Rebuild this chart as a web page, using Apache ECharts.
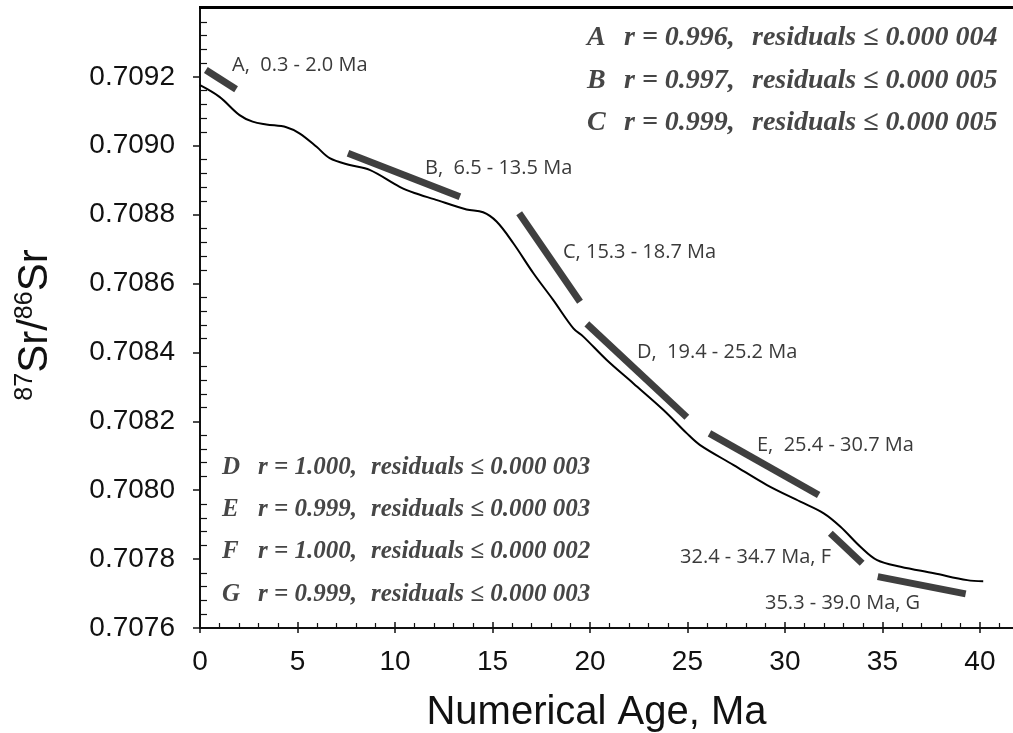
<!DOCTYPE html>
<html><head><meta charset="utf-8">
<script src="https://cdn.jsdelivr.net/npm/echarts@6/dist/echarts.min.js"></script>
<style>html,body{margin:0;padding:0;background:#fff}#c{width:1013px;height:733px}</style>
</head><body><div id="c"></div>
<script>
// ---- data ----
const ages = [0, 1.0, 2.03, 2.7, 3.4, 4.43, 5.1, 5.98, 6.65, 7.68, 8.7, 10.24, 11.0, 12.0, 13.67, 14.52, 15.21, 16.07, 17.1, 18.12, 19.15, 19.66, 20.86, 22.23, 23.77, 24.97, 25.65, 27.37, 29.08, 30.79, 31.99, 32.85, 33.87, 34.73, 35.93, 37.64, 39.35, 40.17];
const ratios = [0.709176, 0.709142, 0.709089, 0.709070, 0.709062, 0.709054, 0.709036, 0.708997, 0.708964, 0.708944, 0.708930, 0.708881, 0.708863, 0.708845, 0.708815, 0.708807, 0.708780, 0.708717, 0.708630, 0.708552, 0.708470, 0.708446, 0.708378, 0.708310, 0.708233, 0.708165, 0.708131, 0.708073, 0.708015, 0.707967, 0.707933, 0.707894, 0.707836, 0.707797, 0.707778, 0.707759, 0.707739, 0.707736];
const segNames = ['A', 'B', 'C', 'D', 'E', 'F', 'G'];
const segStartAge = [0.3, 7.59, 16.37, 19.84, 26.13, 32.33, 34.76];
const segStartRatio = [0.709220, 0.708978, 0.708804, 0.708483, 0.708165, 0.707875, 0.707749];
const segEndAge = [1.85, 13.33, 19.49, 24.97, 31.73, 33.96, 39.27];
const segEndRatio = [0.709164, 0.708852, 0.708547, 0.708212, 0.707986, 0.707788, 0.707699];
const segLabels = ['A,  0.3 - 2.0 Ma', 'B,  6.5 - 13.5 Ma', 'C, 15.3 - 18.7 Ma', 'D,  19.4 - 25.2 Ma', 'E,  25.4 - 30.7 Ma', '32.4 - 34.7 Ma, F', '35.3 - 39.0 Ma, G'];
const statLetters = ['A', 'B', 'C', 'D', 'E', 'F', 'G'];
const statR = ['r = 0.996,', 'r = 0.997,', 'r = 0.999,', 'r = 1.000,', 'r = 0.999,', 'r = 1.000,', 'r = 0.999,'];
const statResid = ['residuals ≤ 0.000 004', 'residuals ≤ 0.000 005', 'residuals ≤ 0.000 005', 'residuals ≤ 0.000 003', 'residuals ≤ 0.000 003', 'residuals ≤ 0.000 002', 'residuals ≤ 0.000 003'];
const xMin = 0, xMax = 41.8, xStep = 5;
const yMin = 0.7076, yMax = 0.7094, yStep = 0.0002;

// ---- layout ----
const segLabelPos = [[232, 65, 'left'], [425, 168, 'left'], [563, 252, 'left'], [637, 352, 'left'], [757, 445, 'left'], [831, 557, 'right'], [765, 603, 'left']];
const statRowY = [38, 81, 123, 468, 510, 552, 595];
const statColX = [[587, 624, 752], [587, 624, 752], [587, 624, 752], [222, 258, 371], [222, 258, 371], [222, 258, 371], [222, 258, 371]];
const statSize = [28, 28, 28, 25, 25, 25, 25];

const chart = echarts.init(document.getElementById('c'), null, {renderer: 'canvas'});
const sans = 'Liberation Sans';
const axisColor = '#111';

const series = [{
  type: 'line', data: ages.map((a, i) => [a, ratios[i]]), smooth: 0.35, showSymbol: false,
  lineStyle: {color: '#000', width: 2}, z: 3, silent: true
}];
segNames.forEach((n, i) => {
  series.push({
    name: n, type: 'line', showSymbol: false, symbol: 'none', silent: true, z: 4,
    data: [[segStartAge[i], segStartRatio[i]], [segEndAge[i], segEndRatio[i]]],
    lineStyle: {color: '#3f3f3f', width: 7, cap: 'butt'}
  });
});

const graphics = [];
segLabels.forEach((t, i) => {
  graphics.push({type: 'text', x: segLabelPos[i][0], y: segLabelPos[i][1], silent: true,
    style: {text: t, fontSize: 20, fontFamily: 'Open Sans', fill: '#3a3a3a', verticalAlign: 'middle', align: segLabelPos[i][2]}});
});
statLetters.forEach((l, i) => {
  [l, statR[i], statResid[i]].forEach((t, j) => {
    graphics.push({type: 'text', x: statColX[i][j], y: statRowY[i], silent: true,
      style: {text: t, fontSize: statSize[i], fontFamily: 'Liberation Serif', fontStyle: 'italic', fontWeight: 'bold',
        fill: '#464646', verticalAlign: 'middle', align: 'left'}});
  });
});
// top frame edge of the plot box
graphics.push({type: 'rect', silent: true, z: 10, shape: {x: 199, y: 6, width: 830, height: 3}, style: {fill: '#000'}});

const option = {
  animation: false,
  backgroundColor: '#fff',
  grid: {left: 200, right: -2, top: 8, bottom: 105, containLabel: false, outerBoundsMode: 'none'},
  xAxis: [{
    type: 'value', position: 'bottom', min: xMin, max: xMax, interval: xStep,
    axisLine: {show: true, onZero: false, lineStyle: {color: axisColor, width: 2}},
    axisTick: {show: true, inside: false, length: 5, lineStyle: {color: axisColor, width: 1.5}},
    axisLabel: {show: true, margin: 20, fontSize: 28, fontFamily: sans, color: axisColor,
      formatter: v => (v % 5 === 0 && v <= 40) ? String(v) : ''},
    splitLine: {show: false},
    name: 'Numerical Age, Ma', nameLocation: 'middle', nameGap: 65,
    nameTextStyle: {fontSize: 40, fontFamily: sans, color: axisColor, padding: [0, 22, 0, 0]}
  }, {
    type: 'value', position: 'bottom', min: xMin, max: xMax, interval: xStep,
    axisLine: {show: false, onZero: false}, axisLabel: {show: false}, splitLine: {show: false},
    axisTick: {show: true, inside: true, length: 6, lineStyle: {color: axisColor, width: 1.5}},
    minorTick: {show: true, splitNumber: 5, length: 5, lineStyle: {color: axisColor, width: 1.2}}
  }],
  yAxis: [{
    type: 'value', position: 'left', min: yMin, max: yMax, interval: yStep,
    axisLine: {show: true, onZero: false, lineStyle: {color: axisColor, width: 2}},
    axisTick: {show: true, inside: false, length: 7, lineStyle: {color: axisColor, width: 1.5}},
    axisLabel: {show: true, margin: 25, fontSize: 28, fontFamily: sans, color: axisColor,
      showMaxLabel: false, formatter: v => v.toFixed(4)},
    splitLine: {show: false},
    name: '{sup|87}{big|Sr/}{sup|86}{big|Sr}', nameLocation: 'middle', nameGap: 143, nameRotate: 90,
    nameTextStyle: {fontFamily: sans, color: axisColor, padding: [0, 14, 0, 0],
      rich: {sup: {fontSize: 25, fontFamily: sans, color: axisColor, verticalAlign: 'top', lineHeight: 44},
             big: {fontSize: 42, fontFamily: sans, color: axisColor, lineHeight: 44}}}
  }, {
    type: 'value', position: 'left', min: yMin, max: yMax, interval: yStep,
    axisLine: {show: false, onZero: false}, axisLabel: {show: false}, splitLine: {show: false},
    axisTick: {show: false, inside: true},
    minorTick: {show: true, splitNumber: 5, length: 7, lineStyle: {color: axisColor, width: 1.2}}
  }],
  series: series,
  graphic: graphics
};
chart.setOption(option);
</script>
</body></html>
